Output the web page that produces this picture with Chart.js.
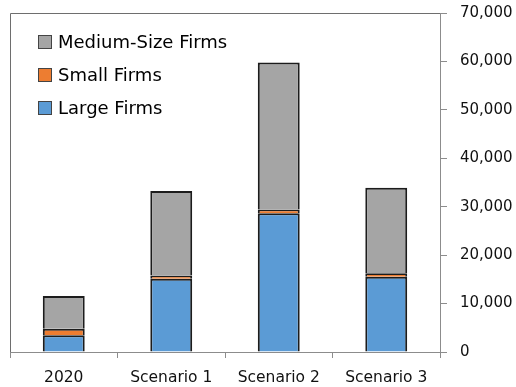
<!DOCTYPE html>
<html>
<head>
<meta charset="utf-8">
<script src="https://cdn.jsdelivr.net/npm/chart.js@4"></script>
<style>
  html, body { margin: 0; padding: 0; background: #fff; }
  #wrap { width: 516px; height: 387px; }
</style>
</head>
<body>
<div id="wrap"><canvas id="firmsChart" width="516" height="387"></canvas></div>
<script>
const categories = ['2020', 'Scenario 1', 'Scenario 2', 'Scenario 3'];
const largeFirms = [3450, 15100, 28650, 15550];
const smallFirms = [1350, 700, 800, 700];
const mediumFirms = [6750, 17450, 30350, 17650];
const yTicks = [0, 10000, 20000, 30000, 40000, 50000, 60000, 70000];

const FONT = 'DejaVu Sans';

// top and left edges of the plot frame
const framePlugin = {
  id: 'frame',
  beforeDatasetsDraw(chart) {
    const { ctx, chartArea: a } = chart;
    ctx.save();
    ctx.strokeStyle = '#6e6e6e';
    ctx.lineWidth = 1;
    ctx.beginPath();
    ctx.moveTo(a.left + 0.5, a.bottom);
    ctx.lineTo(a.left + 0.5, a.top + 0.5);
    ctx.lineTo(a.right, a.top + 0.5);
    ctx.stroke();
    ctx.restore();
  }
};

// legend stacked in the upper left, top series first
const legendPlugin = {
  id: 'cornerLegend',
  afterDraw(chart) {
    const { ctx } = chart;
    const sets = chart.data.datasets.slice().reverse();
    ctx.save();
    ctx.font = '18px "' + FONT + '"';
    ctx.textBaseline = 'middle';
    sets.forEach((ds, i) => {
      const cy = 42 + i * 33;
      ctx.fillStyle = ds.backgroundColor;
      ctx.fillRect(38, cy - 7, 14, 14);
      ctx.strokeStyle = '#444';
      ctx.lineWidth = 1;
      ctx.strokeRect(38.5, cy - 6.5, 13, 13);
      ctx.fillStyle = '#000';
      ctx.fillText(ds.label, 58, cy + 1);
    });
    ctx.restore();
  }
};

const barStyle = { borderColor: '#1c1c1c', borderWidth: 2, barPercentage: 0.39, categoryPercentage: 1 };

new Chart(document.getElementById('firmsChart'), {
  type: 'bar',
  data: {
    labels: categories,
    datasets: [
      { label: 'Large Firms', data: largeFirms, backgroundColor: '#5b9bd5', ...barStyle },
      { label: 'Small Firms', data: smallFirms, backgroundColor: '#ed7d31', ...barStyle },
      { label: 'Medium-Size Firms', data: mediumFirms, backgroundColor: '#a5a5a5', ...barStyle }
    ]
  },
  options: {
    responsive: false,
    animation: false,
    layout: { padding: { top: 13, left: 10 } },
    plugins: { legend: { display: false }, tooltip: { enabled: false } },
    scales: {
      x: {
        stacked: true,
        grid: { drawOnChartArea: false, offset: true, tickLength: 6, color: '#8c8c8c' },
        border: { color: '#8c8c8c' },
        ticks: { font: { family: FONT, size: 15.5 }, color: '#111', padding: 11, maxRotation: 0 },
        afterFit(s) { s.height = 35; s.paddingLeft = 0; s.paddingRight = 0; }
      },
      y: {
        stacked: true,
        position: 'right',
        min: 0,
        max: 70000,
        afterBuildTicks(s) { s.ticks = yTicks.map(v => ({ value: v })); },
        grid: { drawOnChartArea: false, tickLength: 7, color: '#8c8c8c' },
        border: { color: '#8c8c8c' },
        ticks: {
          font: { family: FONT, size: 15 },
          color: '#111',
          padding: 13,
          callback: v => v.toLocaleString('en-US')
        },
        afterFit(s) { s.width = 76; s.paddingTop = 0; s.paddingBottom = 0; }
      }
    }
  },
  plugins: [framePlugin, legendPlugin]
});
</script>
</body>
</html>
